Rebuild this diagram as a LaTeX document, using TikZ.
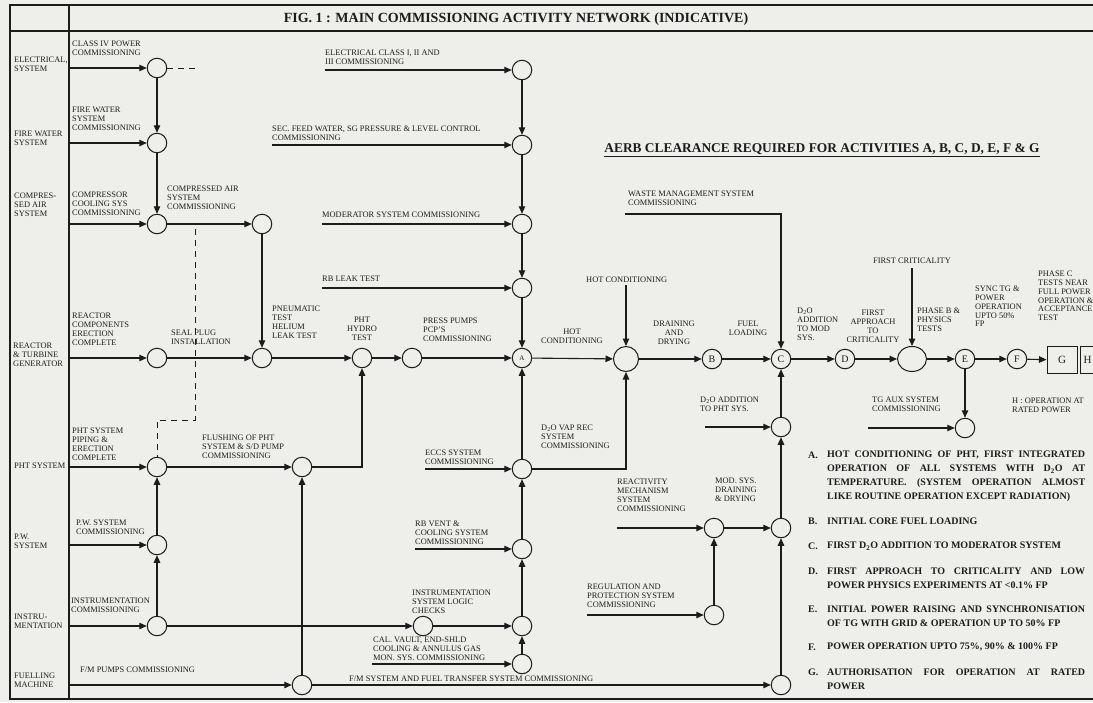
\documentclass[tikz,border=0pt]{standalone}
\usepackage{fontspec}
\setmainfont{Liberation Serif}
\usetikzlibrary{arrows.meta,shapes.geometric}
\definecolor{paper}{RGB}{238,238,235}
\definecolor{ink}{RGB}{28,28,28}
\tikzset{
 lab/.style={anchor=north west, inner sep=0pt, align=left, font=\fontsize{8.4}{8.8}\selectfont, text=ink},
 labc/.style={lab, anchor=north, align=center},
 ev/.style={circle, draw=ink, line width=1pt, minimum size=19.5pt, inner sep=0pt, fill=paper, font=\fontsize{10}{10}\selectfont, text=ink},
 boxnode/.style={rectangle, draw=ink, line width=1pt, minimum width=30pt, minimum height=27pt, inner sep=0pt, fill=paper, font=\fontsize{11}{11}\selectfont, text=ink},
 arr/.style={draw=ink, line width=1.1pt, -{Triangle[length=7.5pt,width=6.5pt]}},
 dsh/.style={draw=ink, line width=0.8pt, dash pattern=on 6pt off 5pt},
 leg/.style={anchor=west, inner sep=0pt, font=\fontsize{10}{10}\selectfont\bfseries, text=ink},
}
\begin{document}
\begin{tikzpicture}[x=1pt,y=-1pt]
\useasboundingbox (0,0) rectangle (1093,702);
\fill[paper] (0,0) rectangle (1093,702);
% frame
\draw[ink, line width=1.6pt] (1093,5) -- (10,5) -- (10,699) -- (1093,699);
\draw[ink, line width=1.2pt] (10,31) -- (1093,31);
\draw[ink, line width=1.2pt] (69,5) -- (69,699);
\node[font=\fontsize{14}{14}\selectfont\bfseries, text=ink] (title) at (516,19) {FIG. 1 : MAIN COMMISSIONING ACTIVITY NETWORK (INDICATIVE)};

% left column
\node[lab] (L1) at (14,57) {ELECTRICAL,\\SYSTEM};
\node[lab] (L2) at (14,131) {FIRE WATER\\SYSTEM};
\node[lab] (L3) at (14,193) {COMPRES-\\SED AIR\\SYSTEM};
\node[lab] (L4) at (13,343) {REACTOR\\\& TURBINE\\GENERATOR};
\node[lab] (L5) at (14,463) {PHT SYSTEM};
\node[lab] (L6) at (14,534) {P.W.\\SYSTEM};
\node[lab] (L7) at (14,614) {INSTRU-\\MENTATION};
\node[lab] (L8) at (14,673) {FUELLING\\MACHINE};

% events
\node[ev] (e1) at (157,68) {};
\node[ev] (fw) at (157,143) {};
\node[ev] (ca) at (157,224) {};
\node[ev] (cas) at (262,224) {};
\node[ev] (rc) at (157,358) {};
\node[ev] (sp) at (262,358) {};
\node[ev] (ht) at (362,358) {};
\node[ev] (pp) at (412,358) {};
\node[ev, font=\fontsize{7}{7}\selectfont] (A) at (522,358) {A};
\node[ev, minimum size=25pt] (hc) at (626,359) {};
\node[ev] (B) at (712,359) {B};
\node[ev] (C) at (781,359) {C};
\node[ev] (D) at (845,359) {D};
\node[ev, ellipse, minimum width=29pt, minimum height=25pt] (fc) at (912,359) {};
\node[ev] (E) at (965,359) {E};
\node[ev] (F) at (1017,359) {F};
\node[boxnode] (G) at (1062,360) {G};
\node[boxnode, anchor=west, minimum width=40pt, align=left, text width=34pt] (H) at (1080,360) {H};

\node[ev] (v1) at (522,70) {};
\node[ev] (v2) at (522,145) {};
\node[ev] (v3) at (522,224) {};
\node[ev] (v4) at (522,288) {};
\node[ev] (v5) at (522,469) {};
\node[ev] (v6) at (522,549) {};
\node[ev] (v7) at (522,626) {};
\node[ev] (v8) at (522,664) {};

\node[ev] (pht) at (157,467) {};
\node[ev] (pw) at (157,545) {};
\node[ev] (ins) at (157,626) {};
\node[ev] (p2) at (302,467) {};
\node[ev] (fm) at (302,685) {};
\node[ev] (il) at (423,626) {};

\node[ev] (pc) at (781,427) {};
\node[ev] (mid) at (781,528) {};
\node[ev] (bot) at (781,685) {};
\node[ev] (mod) at (714,528) {};
\node[ev] (reg) at (714,615) {};
\node[ev] (tg) at (965,428) {};

% start coordinates
\coordinate (s1) at (69,68);
\coordinate (s2) at (69,143);
\coordinate (s3) at (69,224);
\coordinate (s4) at (69,358);
\coordinate (s5) at (69,467);
\coordinate (s6) at (69,545);
\coordinate (s7) at (69,626);
\coordinate (s8) at (69,685);
\coordinate (m1) at (325,70);
\coordinate (m2) at (272,145);
\coordinate (m3) at (322,224);
\coordinate (m4) at (322,288);
\coordinate (m5) at (425,469);
\coordinate (m6) at (415,549);
\coordinate (m8) at (372,664);
\coordinate (hcin) at (626,285);
\coordinate (wm) at (625,214);
\coordinate (fcin) at (912,268);
\coordinate (r1) at (617,528);
\coordinate (r2) at (587,615);
\coordinate (r3) at (705,427);
\coordinate (r4) at (868,428);
\coordinate (e1d) at (198,68);
\coordinate (ds1) at (195,229);
\coordinate (ds2) at (195,420);
\coordinate (ds3) at (157,420);

% connectors
\draw[arr] (s1) -- (e1);
\draw[arr] (s2) -- (fw);
\draw[arr] (s3) -- (ca);
\draw[arr] (s4) -- (rc);
\draw[arr] (s5) -- (pht);
\draw[arr] (s6) -- (pw);
\draw[arr] (s7) -- (ins);
\draw[arr] (s8) -- (fm);
\draw[dsh] (e1) -- (e1d);
\draw[dsh] (ds1) -- (ds2) -- (ds3) -- (pht);
\draw[arr] (e1) -- (fw);
\draw[arr] (fw) -- (ca);
\draw[arr] (ca) -- (cas);
\draw[arr] (cas) -- (sp);
\draw[arr] (rc) -- (sp);
\draw[arr] (sp) -- (ht);
\draw[arr] (ht) -- (pp);
\draw[arr] (pp) -- (A);
\draw[arr] (m1) -- (v1);
\draw[arr] (m2) -- (v2);
\draw[arr] (m3) -- (v3);
\draw[arr] (m4) -- (v4);
\draw[arr] (v1) -- (v2);
\draw[arr] (v2) -- (v3);
\draw[arr] (v3) -- (v4);
\draw[arr] (v4) -- (A);
\draw[arr] (m5) -- (v5);
\draw[arr] (m6) -- (v6);
\draw[arr] (m8) -- (v8);
\draw[arr] (v8) -- (v7);
\draw[arr] (v7) -- (v6);
\draw[arr] (v6) -- (v5);
\draw[arr] (v5) -- (A);
\draw[arr] (v5) -| (hc);
\draw[arr] (A) -- (hc);
\draw[arr] (hcin) -- (hc);
\draw[arr] (hc) -- (B);
\draw[arr] (B) -- (C);
\draw[arr] (wm) -| (C);
\draw[arr] (C) -- (D);
\draw[arr] (D) -- (fc);
\draw[arr] (fcin) -- (fc);
\draw[arr] (fc) -- (E);
\draw[arr] (E) -- (F);
\draw[arr] (F) -- (G);
\draw[arr] (E) -- (tg);
\draw[arr] (r4) -- (tg);
\draw[arr] (pht) -- (p2);
\draw[arr] (p2) -| (ht);
\draw[arr] (pw) -- (pht);
\draw[arr] (ins) -- (pw);
\draw[arr] (fm) -- (p2);
\draw[arr] (ins) -- (il);
\draw[arr] (il) -- (v7);
\draw[arr] (fm) -- (bot);
\draw[arr] (bot) -- (mid);
\draw[arr] (mid) -- (pc);
\draw[arr] (pc) -- (C);
\draw[arr] (r3) -- (pc);
\draw[arr] (r1) -- (mod);
\draw[arr] (mod) -- (mid);
\draw[arr] (r2) -- (reg);
\draw[arr] (reg) -- (mod);

% activity labels
\node[lab] (t1) at (72,41) {CLASS IV POWER\\COMMISSIONING};
\node[lab] (t2) at (72,107) {FIRE WATER\\SYSTEM\\COMMISSIONING};
\node[lab] (t3) at (72,192) {COMPRESSOR\\COOLING SYS\\COMMISSIONING};
\node[lab] (t4) at (167,186) {COMPRESSED AIR\\SYSTEM\\COMMISSIONING};
\node[lab] (t5) at (72,313) {REACTOR\\COMPONENTS\\ERECTION\\COMPLETE};
\node[lab] (t6) at (171,330) {SEAL PLUG\\INSTALLATION};
\node[lab] (t7) at (272,306) {PNEUMATIC\\TEST\\HELIUM\\LEAK TEST};
\node[lab] (t8) at (72,428) {PHT SYSTEM\\PIPING \&\\ERECTION\\COMPLETE};
\node[lab] (t9) at (202,435) {FLUSHING OF PHT\\SYSTEM \& S/D PUMP\\COMMISSIONING};
\node[lab] (t10) at (76,520) {P.W. SYSTEM\\COMMISSIONING};
\node[lab] (t11) at (71,598) {INSTRUMENTATION\\COMMISSIONING};
\node[lab] (t12) at (80,667) {F/M PUMPS COMMISSIONING};
\node[lab] (t13) at (325,50) {ELECTRICAL CLASS I, II AND\\III COMMISSIONING};
\node[lab] (t14) at (272,126) {SEC. FEED WATER, SG PRESSURE \& LEVEL CONTROL\\COMMISSIONING};
\node[lab] (t15) at (322,212) {MODERATOR SYSTEM COMMISSIONING};
\node[lab] (t16) at (322,276) {RB LEAK TEST};
\node[labc] (t17) at (362,317) {PHT\\HYDRO\\TEST};
\node[lab] (t18) at (423,318) {PRESS PUMPS\\PCP'S\\COMMISSIONING};
\node[labc] (t19) at (572,329) {HOT\\CONDITIONING};
\node[lab] (t20) at (586,277) {HOT CONDITIONING};
\node[labc] (t21) at (674,321) {DRAINING\\AND\\DRYING};
\node[labc] (t22) at (748,321) {FUEL\\LOADING};
\node[lab] (t23) at (628,191) {WASTE MANAGEMENT SYSTEM\\COMMISSIONING};
\node[lab] (t24) at (541,425) {D\textsubscript{2}O VAP REC\\SYSTEM\\COMMISSIONING};
\node[lab] (t25) at (425,450) {ECCS SYSTEM\\COMMISSIONING};
\node[lab] (t26) at (415,521) {RB VENT \&\\COOLING SYSTEM\\COMMISSIONING};
\node[lab] (t27) at (412,590) {INSTRUMENTATION\\SYSTEM LOGIC\\CHECKS};
\node[lab] (t28) at (373,637) {CAL. VAULT, END-SHLD\\COOLING \& ANNULUS GAS\\MON. SYS. COMMISSIONING};
\node[lab] (t29) at (349,676) {F/M SYSTEM AND FUEL TRANSFER SYSTEM COMMISSIONING};
\node[lab] (t30) at (797,308) {D\textsubscript{2}O\\ADDITION\\TO MOD\\SYS.};
\node[labc] (t31) at (873,310) {FIRST\\APPROACH\\TO\\CRITICALITY};
\node[labc] (t32) at (912,258) {FIRST CRITICALITY};
\node[lab] (t33) at (917,308) {PHASE B \&\\PHYSICS\\TESTS};
\node[lab] (t34) at (975,286) {SYNC TG \&\\POWER\\OPERATION\\UPTO 50\%\\FP};
\node[lab] (t35) at (1038,271) {PHASE C\\TESTS NEAR\\FULL POWER\\OPERATION \&\\ACCEPTANCE\\TEST};
\node[lab] (t36) at (700,397) {D\textsubscript{2}O ADDITION\\TO PHT SYS.};
\node[lab] (t37) at (872,397) {TG AUX SYSTEM\\COMMISSIONING};
\node[lab] (t38) at (1012,398) {H : OPERATION AT\\RATED POWER};
\node[lab] (t39) at (617,479) {REACTIVITY\\MECHANISM\\SYSTEM\\COMMISSIONING};
\node[lab] (t40) at (715,478) {MOD. SYS.\\DRAINING\\\& DRYING};
\node[lab] (t41) at (587,584) {REGULATION AND\\PROTECTION SYSTEM\\COMMISSIONING};

% AERB heading
\node[anchor=base, inner sep=0pt, font=\fontsize{13.4}{13.4}\selectfont\bfseries, text=ink] (aerb) at (822,152) {AERB CLEARANCE REQUIRED FOR ACTIVITIES A, B, C, D, E, F \& G};
\draw[ink, line width=0.9pt] ([yshift=-4.5pt]aerb.base west) -- ([yshift=-4.5pt]aerb.base east);

% legend
\node[leg] (la) at (808,455) {A.};
\node[leg] (la1) at (827,455) {\makebox[258pt][s]{HOT CONDITIONING OF PHT, FIRST INTEGRATED}};
\node[leg] (la2) at (827,469) {\makebox[258pt][s]{OPERATION OF ALL SYSTEMS WITH D\textsubscript{2}O AT}};
\node[leg] (la3) at (827,483) {\makebox[258pt][s]{TEMPERATURE. (SYSTEM OPERATION ALMOST}};
\node[leg] (la4) at (827,497) {LIKE ROUTINE OPERATION EXCEPT RADIATION)};
\node[leg] (lb) at (808,521) {B.};
\node[leg] (lb1) at (827,521) {INITIAL CORE FUEL LOADING};
\node[leg] (lc) at (808,546) {C.};
\node[leg] (lc1) at (827,546) {FIRST D\textsubscript{2}O ADDITION TO MODERATOR SYSTEM};
\node[leg] (ld) at (808,571) {D.};
\node[leg] (ld1) at (827,571) {\makebox[258pt][s]{FIRST APPROACH TO CRITICALITY AND LOW}};
\node[leg] (ld2) at (827,585) {POWER PHYSICS EXPERIMENTS AT \textless0.1\% FP};
\node[leg] (le) at (808,609) {E.};
\node[leg] (le1) at (827,609) {\makebox[258pt][s]{INITIAL POWER RAISING AND SYNCHRONISATION}};
\node[leg] (le2) at (827,623) {OF TG WITH GRID \& OPERATION UP TO 50\% FP};
\node[leg] (lf) at (808,647) {F.};
\node[leg] (lf1) at (827,647) {POWER OPERATION UPTO 75\%, 90\% \& 100\% FP};
\node[leg] (lg) at (808,672) {G.};
\node[leg] (lg1) at (827,672) {\makebox[258pt][s]{AUTHORISATION FOR OPERATION AT RATED}};
\node[leg] (lg2) at (827,686) {POWER};
\end{tikzpicture}
\end{document}
